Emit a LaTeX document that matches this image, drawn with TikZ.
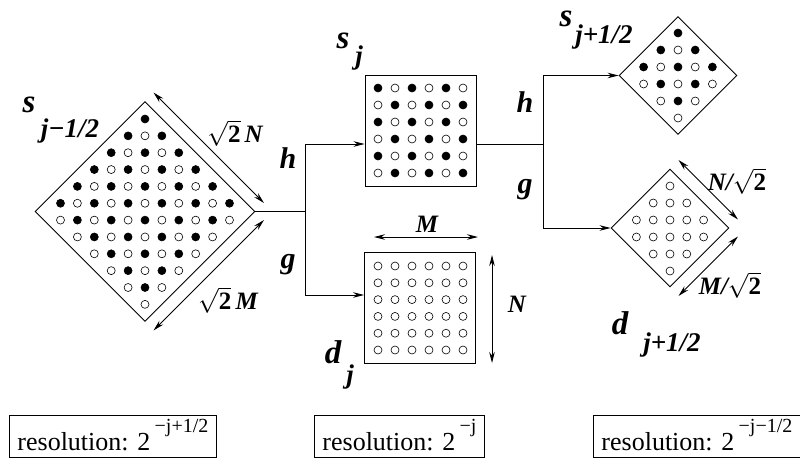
\documentclass[tikz,border=0pt]{standalone}
\usepackage{fontspec}
\setmainfont{Liberation Serif}
\usetikzlibrary{arrows.meta,shapes.geometric,calc}
\begin{document}
\begin{tikzpicture}[x=1pt,y=-1pt,
  lab/.style={font=\fontsize{33}{33}\selectfont\bfseries\itshape, inner sep=0},
  sub/.style={font=\fontsize{27}{27}\selectfont\bfseries\itshape, inner sep=0},
  hg/.style={font=\fontsize{30}{30}\selectfont\bfseries\itshape, inner sep=0},
  dimlab/.style={font=\fontsize{25}{25}\selectfont\bfseries\itshape, inner sep=0},
  fdot/.style={fill=black, draw=black, line width=0.6pt},
  odot/.style={fill=white, draw=black, line width=0.6pt},
  dia/.style={diamond, draw, line width=0.9pt, minimum width=#1, minimum height=#1, inner sep=0, aspect=1},
  sq/.style={rectangle, draw, line width=0.9pt, minimum width=111, minimum height=111, inner sep=0},
  conn/.style={line width=0.9pt},
  arr/.style={line width=0.9pt, -{Stealth[length=11pt,width=5.5pt]}},
  dimarr/.style={line width=0.9pt, {Stealth[length=11pt,width=5.5pt]}-{Stealth[length=11pt,width=5.5pt]}},
  resbox/.style={draw, line width=0.9pt, font=\fontsize{26}{26}\selectfont, inner xsep=8pt, inner ysep=0pt, text height=35pt, text depth=7pt, anchor=north west}
]
\fill[white] (0,0) rectangle (800,458);
\useasboundingbox (0,0) rectangle (800,458);

% ---------- shapes ----------
\node[dia=220] (big) at (145,211.5) {};
\node[sq] (sj) at (420.5,130.5) {};
\node[sq] (dj) at (420,308) {};
\node[dia=118] (sh) at (678,75.5) {};
\node[dia=118] (dh) at (670,228) {};

% ---------- dots: s_{j-1/2} ----------
\foreach \r in {1,...,12}{
  \pgfmathtruncatemacro{\w}{\r<=6 ? \r-1 : 12-\r}
  \pgfmathtruncatemacro{\ww}{2*\w}
  \foreach \k in {0,...,\ww}{
    \pgfmathtruncatemacro{\c}{\k-\w}
    \pgfmathtruncatemacro{\f}{mod(\c+\r+100,2)}
    \ifnum\f=1
      \draw[fdot] ({145+\c*16.9},{119+(\r-1)*16.85}) circle[radius=4pt];
    \else
      \draw[odot] ({145+\c*16.9},{119+(\r-1)*16.85}) circle[radius=4pt];
    \fi
  }
}
% ---------- dots: s_j ----------
\foreach \r in {1,...,6}{
  \foreach \c in {1,...,6}{
    \pgfmathtruncatemacro{\f}{mod(\c+\r,2)}
    \ifnum\f=0
      \draw[fdot] ({378+(\c-1)*17},{88+(\r-1)*17}) circle[radius=4pt];
    \else
      \draw[odot] ({378+(\c-1)*17},{88+(\r-1)*17}) circle[radius=4pt];
    \fi
  }
}
% ---------- dots: d_j ----------
\foreach \r in {1,...,6}{
  \foreach \c in {1,...,6}{
    \draw[odot] ({378+(\c-1)*17},{266+(\r-1)*16.8}) circle[radius=4pt];
  }
}
% ---------- dots: s_{j+1/2} ----------
\foreach \r in {1,...,6}{
  \pgfmathtruncatemacro{\w}{\r<=3 ? \r-1 : 6-\r}
  \pgfmathtruncatemacro{\ww}{2*\w}
  \foreach \k in {0,...,\ww}{
    \pgfmathtruncatemacro{\c}{\k-\w}
    \pgfmathtruncatemacro{\f}{mod(\c+\r+100,2)}
    \ifnum\f=1
      \draw[fdot] ({678+\c*17.2},{33+(\r-1)*17}) circle[radius=4pt];
    \else
      \draw[odot] ({678+\c*17.2},{33+(\r-1)*17}) circle[radius=4pt];
    \fi
  }
}
% ---------- dots: d_{j+1/2} ----------
\foreach \r in {1,...,6}{
  \pgfmathtruncatemacro{\w}{\r<=3 ? \r-1 : 6-\r}
  \pgfmathtruncatemacro{\ww}{2*\w}
  \foreach \k in {0,...,\ww}{
    \pgfmathtruncatemacro{\c}{\k-\w}
    \draw[odot] ({670+\c*16.8},{186+(\r-1)*17}) circle[radius=4pt];
  }
}

% ---------- connectors ----------
\coordinate (j1) at (305,211.5);
\coordinate (j1a) at (305,144);
\coordinate (j1b) at (305,295);
\draw[conn] (big.east) -- (j1);
\draw[conn] (j1a) -- (j1b);
\draw[arr] (j1a) -- (sj.west |- j1a);
\draw[arr] (j1b) -- (dj.west |- j1b);

\coordinate (j2) at (543,144);
\coordinate (j2a) at (543,75.5);
\coordinate (j2b) at (543,228);
\draw[conn] (sj.east |- j2) -- (j2);
\draw[conn] (j2a) -- (j2b);
\draw[arr] (j2a) -- (sh.west);
\draw[arr] (j2b) -- (dh.west);

% ---------- dimension arrows ----------
\draw[dimarr] ($(big.north)+(8.5,-8.5)$) -- ($(big.east)+(8.5,-8.5)$);
\draw[dimarr] ($(big.east)+(8.5,8.5)$) -- ($(big.south)+(8.5,8.5)$);
\draw[dimarr] ($(dh.north)+(8.5,-8.5)$) -- ($(dh.east)+(8.5,-8.5)$);
\draw[dimarr] ($(dh.east)+(8.5,8.5)$) -- ($(dh.south)+(8.5,8.5)$);
\coordinate (mA) at (374,237);
\coordinate (mB) at (478,237);
\draw[dimarr] (mA) -- (mB);
\coordinate (nA) at (492,255);
\coordinate (nB) at (492,363);
\draw[dimarr] (nA) -- (nB);

% ---------- labels ----------
\node[lab] (lsA) at (29,105) {s};
\node[sub] (lsAs) at (70,131) {j−1/2};
\node[lab] (lsj) at (343,41) {s};
\node[sub] (lsjs) at (359,58) {j};
\node[lab] (lsh) at (566,19) {s};
\node[sub] (lshs) at (604,37) {j+1/2};
\node[lab] (ldj) at (333,352) {d};
\node[sub] (ldjs) at (350,377) {j};
\node[lab] (ldh) at (620,323) {d};
\node[sub] (ldhs) at (672,345) {j+1/2};

\node[hg] (h1) at (288,158) {h};
\node[hg] (g1) at (288,265) {g};
\node[hg] (h2) at (525,102) {h};
\node[hg] (g2) at (525,190) {g};

\node[dimlab] (lN1) at (235,133) {$\sqrt{\hbox{\upshape 2}}$\,N};
\node[dimlab] (lM1) at (228,300) {$\sqrt{\hbox{\upshape 2}}$\,M};
\node[dimlab] (lM) at (427,224) {M};
\node[dimlab] (lN) at (517,304) {N};
\node[dimlab] (lN2) at (737,181) {N/$\sqrt{\hbox{\upshape 2}}$};
\node[dimlab] (lM2) at (730,285) {M/$\sqrt{\hbox{\upshape 2}}$};

% ---------- resolution boxes ----------
\node[resbox] (r1) at (9,415) {resolution: 2\,\raisebox{18pt}{\fontsize{20}{20}\selectfont −j+1/2}};
\node[resbox] (r2) at (314,415) {resolution: 2\,\raisebox{18pt}{\fontsize{20}{20}\selectfont −j}};
\node[resbox] (r3) at (593,415) {resolution: 2\,\raisebox{18pt}{\fontsize{20}{20}\selectfont −j−1/2}};
\end{tikzpicture}
\end{document}
